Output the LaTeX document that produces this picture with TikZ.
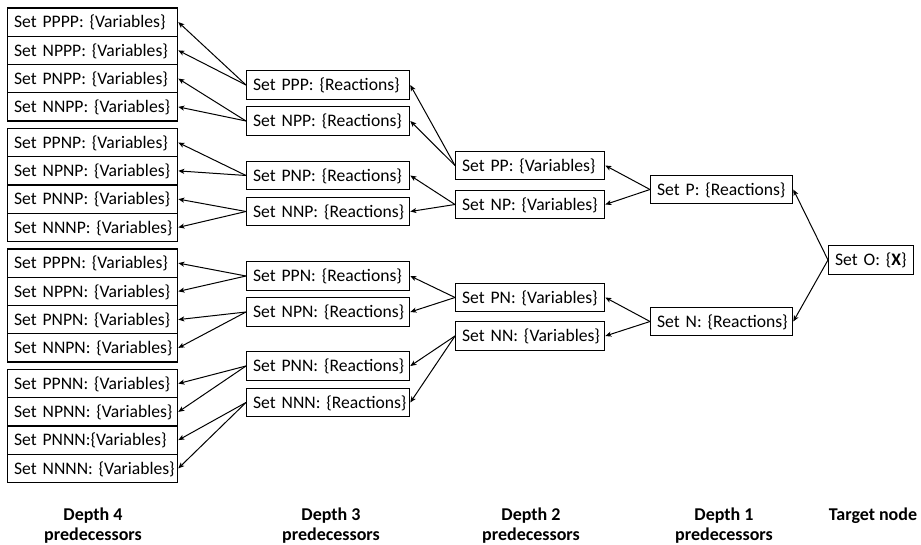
\documentclass[tikz,border=0pt]{standalone}
\usepackage{fontspec}
\setmainfont{Carlito}
\usetikzlibrary{arrows.meta}
\begin{document}
\begin{tikzpicture}[x=1pt,y=-1pt,
  box/.style={draw=black, line width=1.3pt, inner ysep=0pt, inner xsep=6.5pt, anchor=west,
    text height=11.6pt, text depth=0pt, font=\fontsize{17.6}{20}\selectfont, align=left},
  dfour/.style={box, text width=157pt, minimum height=28.25pt},
  dthree/.style={box, text width=150pt, minimum height=28.5pt},
  dtwo/.style={box, text width=136pt, minimum height=28.5pt},
  done/.style={box, text width=129pt, minimum height=28.5pt},
  dzero/.style={box, text width=72pt, minimum height=28.5pt},
  conn/.style={line width=1pt, -{Stealth[length=6pt,width=5pt,inset=1.5pt]}},
  lab/.style={font=\fontsize{18}{20}\selectfont\bfseries, align=center, anchor=north, inner sep=0pt}
]
\useasboundingbox (0,0) rectangle (921,545);
% depth 4
\node[dfour] (PPPP) at (7,22.1) {\mbox{Set PPPP: \{Variables\}}};
\node[dfour] (NPPP) at (7,50.4) {\mbox{Set NPPP: \{Variables\}}};
\node[dfour] (PNPP) at (7,78.6) {\mbox{Set PNPP: \{Variables\}}};
\node[dfour] (NNPP) at (7,106.9) {\mbox{Set NNPP: \{Variables\}}};
\node[dfour] (PPNP) at (7,142.6) {\mbox{Set PPNP: \{Variables\}}};
\node[dfour] (NPNP) at (7,170.9) {\mbox{Set NPNP: \{Variables\}}};
\node[dfour] (PNNP) at (7,199.1) {\mbox{Set PNNP: \{Variables\}}};
\node[dfour] (NNNP) at (7,227.4) {\mbox{Set NNNP: \{Variables\}}};
\node[dfour] (PPPN) at (7,263.1) {\mbox{Set PPPN: \{Variables\}}};
\node[dfour] (NPPN) at (7,291.4) {\mbox{Set NPPN: \{Variables\}}};
\node[dfour] (PNPN) at (7,319.6) {\mbox{Set PNPN: \{Variables\}}};
\node[dfour] (NNPN) at (7,347.9) {\mbox{Set NNPN: \{Variables\}}};
\node[dfour] (PPNN) at (7,383.6) {\mbox{Set PPNN: \{Variables\}}};
\node[dfour] (NPNN) at (7,411.9) {\mbox{Set NPNN: \{Variables\}}};
\node[dfour] (PNNN) at (7,440.1) {\mbox{Set PNNN:\{Variables\}}};
\node[dfour] (NNNN) at (7,468.4) {\mbox{Set NNNN: \{Variables\}}};
% depth 3
\node[dthree] (PPP) at (246,85) {\mbox{Set PPP: \{Reactions\}}};
\node[dthree] (NPP) at (246,121) {\mbox{Set NPP: \{Reactions\}}};
\node[dthree] (PNP) at (246,175.5) {\mbox{Set PNP: \{Reactions\}}};
\node[dthree] (NNP) at (246,211.5) {\mbox{Set NNP: \{Reactions\}}};
\node[dthree] (PPN) at (246,276) {\mbox{Set PPN: \{Reactions\}}};
\node[dthree] (NPN) at (246,312) {\mbox{Set NPN: \{Reactions\}}};
\node[dthree] (PNN) at (246,366) {\mbox{Set PNN: \{Reactions\}}};
\node[dthree] (NNN) at (246,402.5) {\mbox{Set NNN: \{Reactions\}}};
% depth 2
\node[dtwo] (PP) at (455,165.5) {\mbox{Set PP: \{Variables\}}};
\node[dtwo] (NP) at (455,204.5) {\mbox{Set NP: \{Variables\}}};
\node[dtwo] (PN) at (455,297.5) {\mbox{Set PN: \{Variables\}}};
\node[dtwo] (NN) at (455,336) {\mbox{Set NN: \{Variables\}}};
% depth 1
\node[done] (P) at (650,189.5) {\mbox{Set P: \{Reactions\}}};
\node[done] (N) at (650,321.5) {\mbox{Set N: \{Reactions\}}};
% target
\node[dzero] (O) at (828,260) {\mbox{Set O: \{\textbf{X}\}}};
% connectors
\foreach \s/\a/\b in {PPP/PPPP/NPPP, NPP/PNPP/NNPP, PNP/PPNP/NPNP, NNP/PNNP/NNNP,
  PPN/PPPN/NPPN, NPN/PNPN/NNPN, PNN/PPNN/NPNN, NNN/PNNN/NNNN,
  PP/PPP/NPP, NP/PNP/NNP, PN/PPN/NPN, NN/PNN/NNN, P/PP/NP, N/PN/NN, O/P/N}{
  \draw[conn] (\s.west) -- (\a.east);
  \draw[conn] (\s.west) -- (\b.east);
}
% labels
\node[lab] (L4) at (93,507.5) {Depth 4\\predecessors};
\node[lab] (L3) at (331,507.5) {Depth 3\\predecessors};
\node[lab] (L2) at (531,507.5) {Depth 2\\predecessors};
\node[lab] (L1) at (724,507.5) {Depth 1\\predecessors};
\node[lab] (LT) at (873,507.5) {Target node};
\end{tikzpicture}
\end{document}
